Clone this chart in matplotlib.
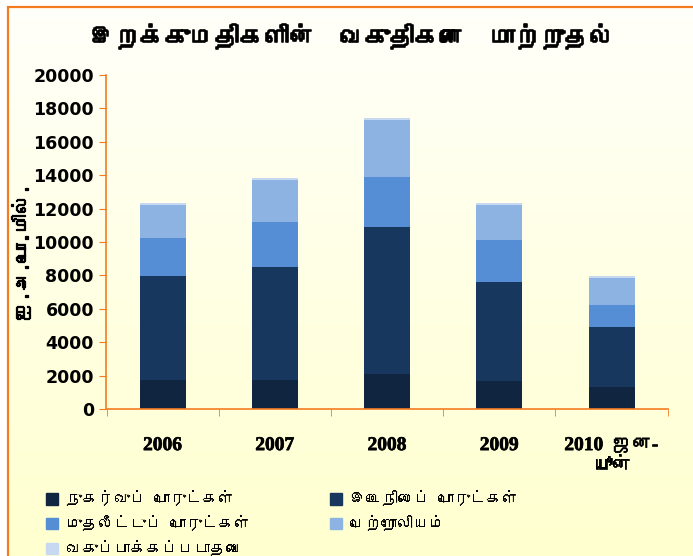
import numpy as np
import matplotlib
matplotlib.use('Agg')
import matplotlib.pyplot as plt
from matplotlib import font_manager
from matplotlib.ft2font import FT2Font
from matplotlib.patches import Patch, Rectangle
import matplotlib.patheffects as pe

# 数据
years = ['2006', '2007', '2008', '2009', '2010  ஜன-\nயூன்']
series_names = ['நுகர்வுப் பொருட்கள்', 'இடைநிலைப் பொருட்கள்',
                'முதலீட்டுப் பொருட்கள்', 'பெற்றோலியம்', 'வகுப்பாக்கப்படாதவை']
consumer = [1740, 1740, 2100, 1680, 1320]
intermediate = [6220, 6760, 8800, 5930, 3590]
investment = [2280, 2700, 2990, 2520, 1320]
petroleum = [1980, 2520, 3410, 2100, 1620]
unclassified = [120, 120, 120, 120, 120]
yticks = [0, 2000, 4000, 6000, 8000, 10000, 12000, 14000, 16000, 18000, 20000]

colors = ['#10253F', '#17375E', '#558ED5', '#8DB3E2', '#C6D9F1']
orange = '#F47C20'

# 找一个能显示泰米尔文的字体
tamil_family = None
for f in font_manager.fontManager.ttflist:
    try:
        cmap = FT2Font(f.fname).get_charmap()
    except Exception:
        continue
    if 0x0B95 in cmap:
        tamil_family = f.name
        break
fam = [tamil_family, 'DejaVu Sans'] if tamil_family else ['DejaVu Sans']
plt.rcParams['font.family'] = fam

# 加粗效果
bold = [pe.withStroke(linewidth=0.9, foreground='black')]

fig = plt.figure(figsize=(6.93, 5.56), dpi=100)

# 背景渐变 + 橙色边框
bg = fig.add_axes([0, 0, 1, 1], zorder=-10)
grad = np.linspace(0, 1, 256)[:, None, None]
top = np.array([255, 255, 250]) / 255
bot = np.array([255, 255, 206]) / 255
img = top + (bot - top) * grad
img = np.repeat(img, 2, axis=1)
x0, y0 = 8 / 693, 1 - 6.5 / 556
bg.imshow(img, extent=[x0, 1.02, -0.02, y0], aspect='auto', origin='upper')
bg.add_patch(Rectangle((x0, -0.02), 1.05, y0 + 0.02, fill=False,
                       edgecolor=orange, linewidth=1.6))
bg.set_xlim(0, 1)
bg.set_ylim(0, 1)
bg.axis('off')

ax = fig.add_axes([106.5 / 693, 1 - 409.3 / 556, (667.7 - 106.5) / 693, (409.3 - 74.7) / 556])
ax.patch.set_alpha(0)

x = np.arange(len(years))
bottom = np.zeros(len(years))
for vals, c, name in zip([consumer, intermediate, investment, petroleum, unclassified], colors, series_names):
    ax.bar(x, vals, width=0.41, bottom=bottom, color=c, label=name)
    bottom += np.array(vals)

ax.set_xlim(-0.5, len(years) - 0.5)
ax.set_ylim(0, 20000)
ax.set_yticks(yticks)
ax.set_yticklabels([str(v) for v in yticks], fontsize=12.5, fontweight='bold',
                   family=['DejaVu Sans'])
ax.set_xticks(x)
ax.set_xticklabels(years, fontsize=14, fontweight='bold',
                   family=['Liberation Serif'] + fam, linespacing=1.3)
for t in ax.get_xticklabels():
    t.set_path_effects([pe.withStroke(linewidth=0.5, foreground='black')])
ax.set_xticks(np.arange(-0.5, len(years)), minor=True)
ax.tick_params(axis='x', which='major', length=0, pad=20)
ax.tick_params(axis='x', which='minor', length=5, color=orange, direction='out')
ax.tick_params(axis='y', length=5, color=orange, direction='out', pad=4)
for s in ['top', 'right']:
    ax.spines[s].set_visible(False)
for s in ['left', 'bottom']:
    ax.spines[s].set_color(orange)
    ax.spines[s].set_linewidth(1.2)

ylab = ax.set_ylabel('ஐ.அ.டொ.மில்.', fontsize=14, fontweight='bold')
ylab.set_path_effects(bold)
ax.yaxis.set_label_coords(-0.135, 0.47)

fig.text(0.508, 1 - 36 / 556, 'இறக்குமதிகளின்  வகுதிகளை  மாற்றுதல்',
         fontsize=18, fontweight='bold', ha='center', va='center',
         path_effects=[pe.withStroke(linewidth=1.2, foreground='black')])

handles = [Patch(color=c) for c in colors]
order = [0, 2, 4, 1, 3]
fig.legend([handles[i] for i in order], [series_names[i] for i in order],
           loc='upper left', bbox_to_anchor=(40 / 693, 1 - 484 / 556), ncol=2,
           frameon=False, fontsize=11.5, handlelength=0.75, handleheight=0.75,
           handletextpad=0.5, columnspacing=5.0, labelspacing=0.55,
           borderaxespad=0)

plt.savefig('out.png', dpi=100)
